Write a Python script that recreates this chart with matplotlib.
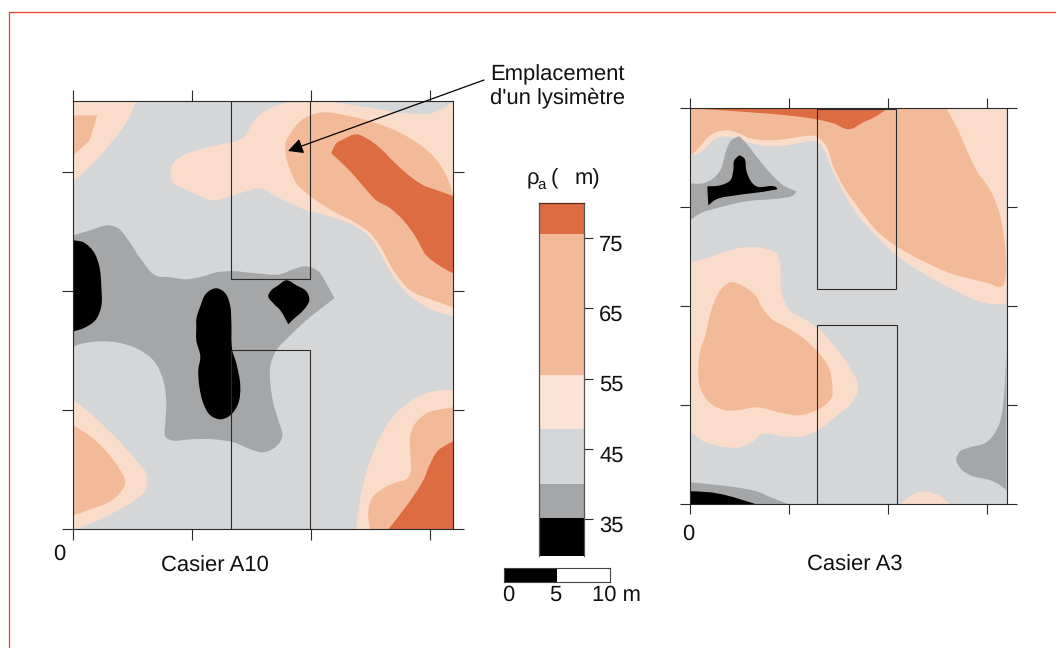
import matplotlib
matplotlib.use("Agg")
import numpy as np
import matplotlib.pyplot as plt
from matplotlib.patches import PathPatch, Rectangle
from matplotlib.path import Path

plt.rcParams['font.family'] = ['Liberation Sans', 'DejaVu Sans']
plt.rcParams['text.hinting'] = 'no_hinting'
plt.rcParams['text.hinting_factor'] = 1

ORANGE = '#dd6c40'
SALMON = '#f3ba9a'
LIGHT = '#fadccb'
GRAY = '#d4d6d8'
DARK = '#a5a6a8'
BLACK = '#000000'
LINE = '#2a2a2a'

# casier A10, contours (1 tick = 119 units)
a10_ticks_x = [0, 119, 238, 357]
a10_ticks_y = [0, 119, 238, 357]
a10_xlim = 380
a10_ylim = 428.6
a10_rect_x = [157.3, 236.7]
a10_rect_top_y = [250, 428.6]
a10_rect_low_y = [0.3, 179.7]

a10_l1_x = [0, 63, 57, 47, 33, 20, 0]
a10_l1_y = [429, 429, 414, 398, 381, 366, 348]
a10_s1_x = [0, 24, 20, 16, 10, 0]
a10_s1_y = [414, 414, 401, 389, 383, 374]

a10_l2_x = [97, 100, 110, 130, 153, 167, 172, 180, 193, 213, 223, 233, 260, 300, 333, 357, 370, 380,
            380, 360, 337, 320, 307, 295, 280, 253, 233, 213, 200, 193, 187, 173, 157, 140, 127, 110, 100]
a10_l2_y = [356, 366, 374, 381, 386, 390, 394, 408, 419, 427, 429, 429, 427, 421, 416, 416, 421, 428,
            213, 219, 233, 253, 276, 294, 304, 314, 319, 328, 334, 339, 341, 338, 333, 329, 333, 341, 346]
a10_s2_x = [212, 212, 217, 227, 237, 250, 267, 290, 317, 340, 360, 373, 380,
            380, 360, 337, 320, 307, 297, 283, 260, 237, 223, 217, 213]
a10_s2_y = [381, 386, 396, 408, 414, 417, 415, 410, 401, 389, 373, 354, 334,
            222, 229, 239, 259, 283, 296, 306, 318, 333, 346, 359, 371]
a10_o2_x = [258, 263, 270, 283, 295, 307, 320, 333, 350, 367, 380, 380, 367, 353, 342, 330, 317, 303, 290, 277]
a10_o2_y = [376, 386, 390, 395, 390, 381, 368, 356, 344, 338, 333, 256, 263, 274, 293, 309, 321, 329, 343, 358]

a10_d_x = [0, 17, 35, 45, 55, 67, 82, 97, 113, 130, 143, 160, 183, 207, 220, 233, 245, 253, 261,
           233, 217, 203, 197, 197, 200, 205, 209, 203, 190, 180, 160, 140, 117, 98, 92, 92, 93, 90, 80, 63, 43, 27, 10, 0]
a10_d_y = [294, 299, 304, 301, 289, 271, 254, 252, 250, 253, 257, 258, 256, 255, 260, 263, 258, 246, 231,
           209, 194, 179, 163, 146, 126, 109, 93, 83, 77, 79, 87, 90, 90, 89, 93, 106, 126, 149, 169, 181, 187, 188, 186, 183]
a10_b1_x = [0, 10, 20, 26, 28, 28, 22, 10, 0]
a10_b1_y = [289, 287, 278, 263, 243, 223, 209, 201, 198]
a10_b2_x = [123, 127, 133, 143, 152, 157, 158, 159, 163, 167, 165, 157, 147, 137, 130, 126, 125, 127, 123, 123]
a10_b2_y = [210, 223, 236, 241, 236, 223, 209, 179, 166, 143, 126, 114, 110, 114, 126, 143, 159, 173, 189, 203]
a10_b3_x = [213, 223, 233, 236, 230, 220, 215, 207, 200, 195, 198, 205]
a10_b3_y = [249, 244, 238, 229, 219, 210, 205, 219, 226, 233, 239, 244]

a10_l3_x = [0, 17, 33, 50, 63, 72, 74, 72, 60, 43, 23, 2, 0]
a10_l3_y = [129, 116, 101, 84, 69, 58, 49, 39, 28, 18, 8, 0, 0]
a10_s3_x = [0, 17, 33, 47, 52, 48, 37, 20, 0]
a10_s3_y = [104, 93, 78, 59, 48, 38, 28, 21, 14]

a10_l4_x = [283, 285, 290, 297, 307, 320, 337, 353, 367, 380, 380]
a10_l4_y = [0, 19, 46, 69, 93, 113, 128, 136, 139, 139, 0]
a10_s4_x = [297, 295, 300, 310, 323, 333, 337, 337, 337, 342, 355, 368, 380, 380]
a10_s4_y = [0, 18, 33, 41, 47, 50, 56, 76, 93, 106, 117, 120, 122, 0]
a10_o4_x = [315, 333, 350, 357, 365, 380, 380]
a10_o4_y = [0, 23, 49, 66, 79, 88, 0]

# casier A3 (1 tick = 99 units)
a3_ticks_x = [0, 99, 198, 297]
a3_ticks_y = [0, 99, 198, 297, 396.3]
a3_xlim = 316.3
a3_ylim = 396.3
a3_rect_top_x = [126.3, 205.7]
a3_rect_top_y = [215.6, 395.3]
a3_rect_low_x = [127, 206.3]
a3_rect_low_y = [0, 179.3]

a3_l1_x = [0, 13, 23, 35, 46, 61, 80, 96, 113, 126, 131, 140, 150, 166, 186, 206, 233, 260, 286, 303, 316, 316, 0]
a3_l1_y = [348, 354, 364, 368, 366, 361, 358, 359, 362, 363, 359, 339, 318, 291, 268, 249, 231, 216, 204, 200, 201, 396, 396]
a3_s1_x = [0, 256, 266, 278, 286, 300, 310, 315, 315, 313, 308, 301, 286, 260, 233, 206, 186, 170, 153, 143, 136, 130,
           126, 113, 93, 76, 60, 46, 35, 20, 10, 1, 0]
a3_s1_y = [396, 396, 378, 351, 334, 314, 288, 254, 226, 219, 217, 220, 224, 231, 243, 258, 274, 294, 318, 338, 358, 365,
           368, 368, 365, 364, 366, 372, 374, 369, 358, 349, 348]
a3_o1_x = [0, 196, 186, 173, 159, 143, 126, 96, 46]
a3_o1_y = [396, 395, 388, 382, 375, 381, 385, 389, 393]

a3_l2_x = [0, 16, 36, 53, 73, 86, 90, 91, 95, 100, 113, 130, 146, 160, 168, 161, 146, 126, 113, 93, 71, 63, 50, 30, 13, 0]
a3_l2_y = [242, 246, 253, 257, 256, 251, 238, 214, 201, 193, 186, 174, 156, 136, 117, 101, 88, 73, 68, 68, 70, 63, 57, 58, 63, 73]
a3_s2_x = [16, 21, 30, 40, 53, 66, 71, 83, 93, 113, 126, 138, 142, 141, 126, 108, 93, 66, 53, 36, 20, 10, 8, 10, 15]
a3_s2_y = [174, 194, 214, 222, 218, 208, 198, 184, 179, 166, 154, 138, 118, 106, 94, 89, 91, 97, 95, 94, 101, 116, 136, 154, 169]

a3_d1_x = [0, 13, 23, 30, 36, 41, 49, 56, 66, 80, 93, 106, 103, 90, 56, 26, 10, 0]
a3_d1_y = [321, 321, 326, 334, 354, 364, 368, 361, 348, 331, 319, 313, 309, 306, 303, 296, 291, 284]
a3_b1_x = [17, 30, 40, 43, 44, 49, 54, 56, 60, 66, 86, 87, 76, 46, 26, 18]
a3_b1_y = [318, 319, 324, 334, 344, 349, 346, 334, 324, 318, 317, 315, 313, 309, 305, 299]

a3_d2_x = [316, 315, 313, 308, 296, 280, 270, 266, 270, 280, 300, 310, 316]
a3_d2_y = [154, 131, 101, 78, 62, 57, 53, 45, 36, 29, 24, 19, 14]
a3_d3_x = [0, 20, 46, 66, 83, 99, 0]
a3_d3_y = [22, 20, 17, 13, 6, 0, 0]
a3_b3_x = [0, 20, 36, 50, 66, 0]
a3_b3_y = [13, 12, 9, 5, 0, 0]
a3_l3_x = [210, 220, 228, 240, 250, 260]
a3_l3_y = [0, 8, 12, 12, 8, 0]

# legend
bar_edges = [29.8, 35.2, 40, 47.8, 55.5, 75.5, 80]
bar_colors = [BLACK, DARK, GRAY, '#fde3d6', SALMON, ORANGE]
bar_ticks = [35, 45, 55, 65, 75]
scale_edges = [0, 5, 10]
scale_colors = [BLACK, 'white']


def px_axes(fig, left, right, top, bottom):
    return fig.add_axes([left / 1056, (648 - bottom) / 648, (right - left) / 1056, (bottom - top) / 648])


def style_map(ax, xlim, ylim, ticks_x, ticks_y, tick_len):
    ax.set_xlim(0, xlim)
    ax.set_ylim(0, ylim)
    ax.set_facecolor(GRAY)
    ax.set_xticks(ticks_x)
    ax.set_yticks(ticks_y)
    ax.tick_params(which='both', top=True, bottom=True, left=True, right=True, labelbottom=False, labelleft=False,
                   direction='out', length=tick_len, width=0.8, color=LINE)
    for s in ax.spines.values():
        s.set_linewidth(0.8)
        s.set_edgecolor(LINE)


def contour(ax, xs, ys, color, xlim, ylim):
    # bezier through the read points, corners and map edges stay sharp
    p = np.column_stack([xs, ys]).astype(float)
    n = len(p)
    prev = p - np.roll(p, 1, axis=0)
    nxt = np.roll(p, -1, axis=0) - p
    lp = np.maximum(np.hypot(prev[:, 0], prev[:, 1]), 1e-6)
    ln = np.maximum(np.hypot(nxt[:, 0], nxt[:, 1]), 1e-6)
    cosang = (prev * nxt).sum(axis=1) / (lp * ln)
    tang = prev / lp[:, None] + nxt / ln[:, None]
    tang = tang / np.maximum(np.hypot(tang[:, 0], tang[:, 1]), 1e-6)[:, None]
    edge = (p[:, 0] <= 1) | (p[:, 0] >= xlim - 1) | (p[:, 1] <= 1) | (p[:, 1] >= ylim - 1)
    sharp = edge | (cosang < 0.45)
    verts = [p[0]]
    codes = [Path.MOVETO]
    for i in range(n):
        j = (i + 1) % n
        c1 = p[i] if sharp[i] else p[i] + tang[i] * ln[i] / 3
        c2 = p[j] if sharp[j] else p[j] - tang[j] * ln[i] / 3
        verts += [c1, c2, p[j]]
        codes += [Path.CURVE4] * 3
    ax.add_patch(PathPatch(Path(verts, codes), fc=color, ec='none', lw=0))


fig = plt.figure(figsize=(10.56, 6.48), dpi=100)

ax1 = px_axes(fig, 73.3, 453.3, 100.7, 529.3)
style_map(ax1, a10_xlim, a10_ylim, a10_ticks_x, a10_ticks_y, 8)
for xs, ys, c in [(a10_l1_x, a10_l1_y, LIGHT), (a10_s1_x, a10_s1_y, SALMON),
                  (a10_l2_x, a10_l2_y, LIGHT), (a10_s2_x, a10_s2_y, SALMON), (a10_o2_x, a10_o2_y, ORANGE),
                  (a10_d_x, a10_d_y, DARK), (a10_b1_x, a10_b1_y, BLACK), (a10_b2_x, a10_b2_y, BLACK),
                  (a10_b3_x, a10_b3_y, BLACK),
                  (a10_l3_x, a10_l3_y, LIGHT), (a10_s3_x, a10_s3_y, SALMON),
                  (a10_l4_x, a10_l4_y, LIGHT), (a10_s4_x, a10_s4_y, SALMON), (a10_o4_x, a10_o4_y, ORANGE)]:
    contour(ax1, xs, ys, c, a10_xlim, a10_ylim)
ax1.add_patch(Rectangle((a10_rect_x[0], a10_rect_top_y[0]), a10_rect_x[1] - a10_rect_x[0],
                        a10_rect_top_y[1] - a10_rect_top_y[0], fill=False, ec=LINE, lw=0.8))
ax1.add_patch(Rectangle((a10_rect_x[0], a10_rect_low_y[0]), a10_rect_x[1] - a10_rect_x[0],
                        a10_rect_low_y[1] - a10_rect_low_y[0], fill=False, ec=LINE, lw=0.8))

ax2 = px_axes(fig, 690.3, 1006.6, 108, 504.3)
style_map(ax2, a3_xlim, a3_ylim, a3_ticks_x, a3_ticks_y, 7.2)
for xs, ys, c in [(a3_l1_x, a3_l1_y, LIGHT), (a3_s1_x, a3_s1_y, SALMON), (a3_o1_x, a3_o1_y, ORANGE),
                  (a3_l2_x, a3_l2_y, LIGHT), (a3_s2_x, a3_s2_y, SALMON),
                  (a3_d1_x, a3_d1_y, DARK), (a3_b1_x, a3_b1_y, BLACK),
                  (a3_d2_x, a3_d2_y, DARK), (a3_d3_x, a3_d3_y, DARK), (a3_b3_x, a3_b3_y, BLACK),
                  (a3_l3_x, a3_l3_y, LIGHT)]:
    contour(ax2, xs, ys, c, a3_xlim, a3_ylim)
ax2.add_patch(Rectangle((a3_rect_top_x[0], a3_rect_top_y[0]), a3_rect_top_x[1] - a3_rect_top_x[0],
                        a3_rect_top_y[1] - a3_rect_top_y[0], fill=False, ec=LINE, lw=0.8))
ax2.add_patch(Rectangle((a3_rect_low_x[0], a3_rect_low_y[0]), a3_rect_low_x[1] - a3_rect_low_x[0],
                        a3_rect_low_y[1] - a3_rect_low_y[0], fill=False, ec=LINE, lw=0.8))

# colour bar
cax = px_axes(fig, 539.3, 584, 202.5, 556)
for i, c in enumerate(bar_colors):
    cax.bar(0, bar_edges[i + 1] - bar_edges[i], bottom=bar_edges[i], width=1, color=c, lw=0)
cax.set_xlim(-0.5, 0.5)
cax.set_ylim(bar_edges[0], bar_edges[-1])
cax.set_xticks([])
cax.set_yticks(bar_ticks)
cax.yaxis.tick_right()
cax.tick_params(axis='y', direction='out', length=6.5, width=0.8, color=LINE, labelright=False)
for t in bar_ticks:
    cax.annotate(str(t), xy=(1, t), xycoords=('axes fraction', 'data'), xytext=(11, -5), textcoords='offset points',
                 ha='left', va='center', fontsize=16, color='#111111')
for name, s in cax.spines.items():
    s.set_linewidth(0.9)
    s.set_edgecolor('#555555')
cax.spines['top'].set_edgecolor('#5a2a18')
cax.spines['bottom'].set_visible(False)

# scale bar
sax = px_axes(fig, 503.7, 610, 567.7, 581.7)
for i, c in enumerate(scale_colors):
    sax.barh(0, scale_edges[i + 1] - scale_edges[i], left=scale_edges[i], height=1, color=c, lw=0)
sax.set_xlim(0, 10)
sax.set_ylim(-0.5, 0.5)
sax.set_xticks([])
sax.set_yticks([])
for s in sax.spines.values():
    s.set_linewidth(0.8)
    s.set_edgecolor('#444444')

# everything placed by picture position
over = fig.add_axes([0, 0, 1, 1], zorder=5)
over.set_xlim(0, 1056)
over.set_ylim(648, 0)
over.axis('off')
over.patch.set_alpha(0)
over.plot([8.5, 8.5, 1056], [648, 11.5, 11.5], color='#e8402a', lw=0.9)

tc = '#111111'
fs = 15.6
over.text(490, 80.7, 'Emplacement', fontsize=fs, color=tc, ha='left', va='baseline')
over.text(490, 103.3, "d'un lysimètre", fontsize=fs, color=tc, ha='left', va='baseline')
over.annotate('', xy=(288, 151), xytext=(484, 80),
              arrowprops=dict(arrowstyle='-|>,head_length=9,head_width=4.6', mutation_scale=1, color='black',
                              lw=0.9, shrinkA=0, shrinkB=0))
over.text(215, 566.5, 'Casier A10', fontsize=fs, color=tc, ha='center', va='center')
over.text(855, 565.5, 'Casier A3', fontsize=fs, color=tc, ha='center', va='center')
over.text(59.5, 554, '0', fontsize=16, color=tc, ha='center', va='center')
over.text(688, 534, '0', fontsize=16, color=tc, ha='center', va='center')
over.text(526.5, 184, 'ρ', fontsize=fs, color=tc, ha='left', va='baseline')
over.text(537.5, 189, 'a', fontsize=11, color=tc, ha='left', va='baseline')
over.text(551, 184, '(', fontsize=fs, color=tc, ha='left', va='baseline')
over.text(575, 184, 'm)', fontsize=fs, color=tc, ha='left', va='baseline')
over.text(508, 595, '0', fontsize=16, color=tc, ha='center', va='center')
over.text(555.5, 595, '5', fontsize=16, color=tc, ha='center', va='center')
over.text(592, 595, '10 m', fontsize=16, color=tc, ha='left', va='center')

fig.savefig('out.png', dpi=100, facecolor='white')
plt.close(fig)
